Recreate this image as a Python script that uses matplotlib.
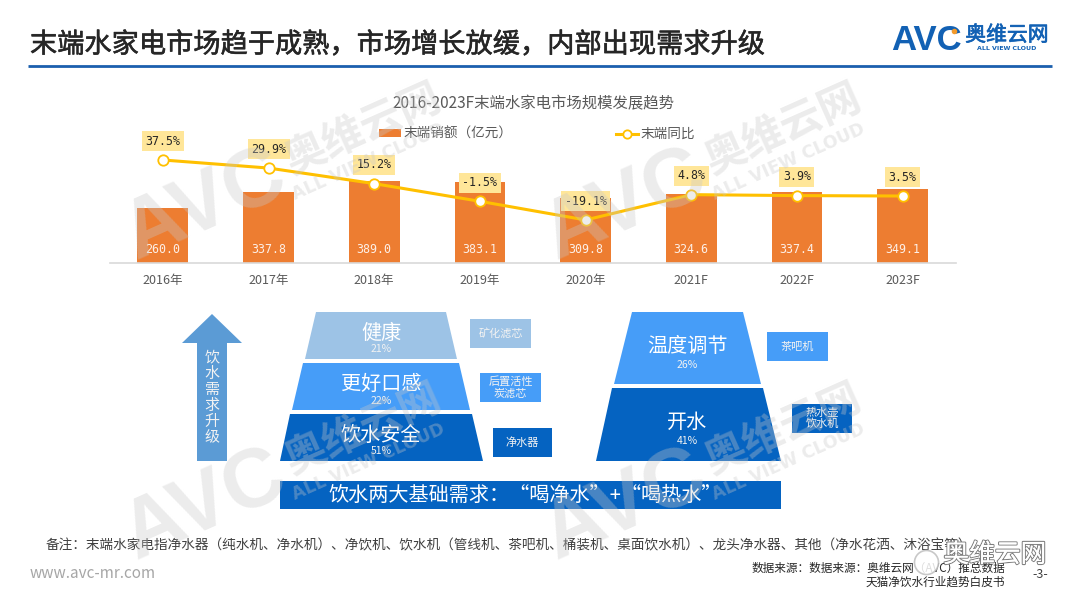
import matplotlib
matplotlib.use("Agg")
import matplotlib.pyplot as plt
import matplotlib.patheffects as pe
from matplotlib.patches import Polygon, Rectangle

plt.rcParams['font.family'] = ['Noto Sans CJK SC', 'DejaVu Sans']

years = ["2016年", "2017年", "2018年", "2019年", "2020年", "2021F", "2022F", "2023F"]
sales = [260.0, 337.8, 389.0, 383.1, 309.8, 324.6, 337.4, 349.1]
growth = [37.5, 29.9, 15.2, -1.5, -19.1, 4.8, 3.9, 3.5]

# left pyramid, top to bottom
left_names = ["健康", "更好口感", "饮水安全"]
left_share = ["21%", "22%", "51%"]
left_notes = ["矿化滤芯", "后置活性\n炭滤芯", "净水器"]
# right pyramid
right_names = ["温度调节", "开水"]
right_share = ["26%", "41%"]
right_notes = ["茶吧机", "热水壶\n饮水机"]

LIGHT = "#9DC3E6"
MID = "#469DF8"
DARK = "#0563C1"
BAR = "#ED7D31"
LINE = "#FFC000"
W, H = 1080, 608


def px_axes(x0, y0, x1, y1, z):
    # axes placed with pixel positions, y counted from the top
    return fig.add_axes([x0 / W, 1 - y1 / H, (x1 - x0) / W, (y1 - y0) / H], zorder=z)


def trapeze(top, bottom, y0, y1, color, name, share, share_dy):
    page.add_patch(Polygon([(top[0], y0), (top[1], y0), (bottom[1], y1), (bottom[0], y1)], color=color, lw=0))
    cx = (top[0] + top[1]) / 2
    cy = (y0 + y1) / 2
    page.text(cx, cy - 2, name, color="white", fontsize=14.5, ha="center", va="center")
    page.text(cx, cy + share_dy, share, color="#F2F2F2", fontsize=7.5, ha="center", va="center")


def note(x0, x1, y0, y1, color, txt):
    page.add_patch(Rectangle((x0, y0), x1 - x0, y1 - y0, color=color, lw=0))
    page.text((x0 + x1) / 2, (y0 + y1) / 2, txt, color="#F2F2F2", fontsize=8, ha="center", va="center", linespacing=1.15)


fig = plt.figure(figsize=(10.8, 6.08), dpi=100, facecolor="white")

page = px_axes(0, 0, W, H, 0)
page.set_xlim(0, W)
page.set_ylim(H, 0)
page.axis("off")

# header
page.text(30, 45, "末端水家电市场趋于成熟，市场增长放缓，内部出现需求升级", fontsize=19.6, color="#262626", ha="left", va="center",
          path_effects=[pe.withStroke(linewidth=0.4, foreground="#262626")])
page.plot([28, 1052], [66, 66], color="#1B5FAE", lw=2, solid_capstyle="butt")
page.text(891, 40, "AVC", fontsize=25, color="#1261B4", family="Liberation Sans", weight="bold", ha="left", va="center")
page.scatter([954], [31], s=16, color="#F39A2B", lw=0, zorder=3)
page.text(1007, 35, "奥维云网", fontsize=15, color="#1261B4", ha="center", va="center",
          path_effects=[pe.withStroke(linewidth=0.5, foreground="#1261B4")])
page.text(1007, 49, "ALL VIEW CLOUD", fontsize=4.5, color="#1261B4", weight="bold", family="DejaVu Sans", ha="center", va="center")

# bar + line chart
ax = px_axes(110, 100, 955.5, 263, 1)
ax.patch.set_alpha(0)
ax.set_xlim(-0.5, 7.5)
ax.set_ylim(0, 772)
bars = ax.bar(range(8), sales, width=0.48, color=BAR, label="末端销额（亿元）")
for s in ["top", "left", "right"]:
    ax.spines[s].set_visible(False)
ax.spines["bottom"].set_color("#D9D9D9")
ax.spines["bottom"].set_linewidth(1.2)
ax.set_yticks([])
ax.set_xticks(range(8))
ax.set_xticklabels(years, fontsize=9, color="#595959")
ax.tick_params(axis="x", length=0, pad=8)
for i, v in enumerate(sales):
    ax.annotate("%.1f" % v, (i, 0), xytext=(0, 9.5), textcoords="offset points", ha="center", va="center",
                color="#FDF0E8", fontsize=8.4, family="DejaVu Sans Mono")

ax2 = ax.twinx()
ax2.set_ylim(-59.7, 94.1)
ax2.set_yticks([])
for s in ax2.spines.values():
    s.set_visible(False)
line, = ax2.plot(range(8), growth, color=LINE, lw=2.2, marker="o", ms=7.5, mfc="white", mec=LINE, mew=1.3, label="末端同比")
for i, v in enumerate(growth):
    ax2.annotate("%.1f%%" % v, (i, v), xytext=(0, 13.5), textcoords="offset points", ha="center", va="center",
                 color="#262626", fontsize=8.4, family="DejaVu Sans Mono",
                 bbox=dict(boxstyle="square,pad=0.3", fc="#FFE699", ec="none"))

ax2.legend(handles=[bars, line], loc="center", bbox_to_anchor=(537 / W, 1 - 134 / H), bbox_transform=fig.transFigure,
           ncol=2, frameon=False, fontsize=9.8, labelcolor="#595959", handlelength=1.65, handleheight=0.45,
           columnspacing=7.6, handletextpad=0.15, markerscale=0.8)
page.text(533, 104, "2016-2023F末端水家电市场规模发展趋势", fontsize=11.1, color="#595959", ha="center", va="center")

# demand arrow
page.add_patch(Polygon([(197, 461), (197, 343), (182, 343), (212, 314), (242, 343), (227, 343), (227, 461)], color="#5B9BD5", lw=0))
page.text(212, 398, "饮\n水\n需\n求\n升\n级", color="#F2F2F2", fontsize=10.8, ha="center", va="center", linespacing=1.2)

# left pyramid
trapeze((316, 446), (305, 457), 312, 359, LIGHT, left_names[0], left_share[0], 14)
trapeze((303, 459), (292, 470), 363, 410, MID, left_names[1], left_share[1], 14)
trapeze((290, 472), (280, 483), 414, 461, DARK, left_names[2], left_share[2], 14)
note(470, 531, 319, 348, LIGHT, left_notes[0])
note(480, 541, 373, 402, MID, left_notes[1])
note(493, 552, 428, 457, DARK, left_notes[2])

# right pyramid
trapeze((632, 743), (614, 761), 312, 384, MID, right_names[0], right_share[0], 17)
trapeze((612, 763), (596, 781), 388, 461, DARK, right_names[1], right_share[1], 16)
note(767, 828, 332, 361, MID, right_notes[0])
note(792, 852, 404, 433, DARK, right_notes[1])

page.add_patch(Rectangle((280, 481), 501, 28, color=DARK, lw=0))
page.text(525, 495, "饮水两大基础需求：“喝净水”+“喝热水”", color="white", fontsize=14.5, ha="center", va="center")

# footer
page.text(46, 545, "备注：末端水家电指净水器（纯水机、净水机）、净饮机、饮水机（管线机、茶吧机、桶装机、桌面饮水机）、龙头净水器、其他（净水花洒、沐浴宝等）",
          fontsize=9.8, color="#404040", ha="left", va="center")
page.text(30, 574, "www.avc-mr.com", fontsize=11, color="#A6A6A6", ha="left", va="center")
page.text(1005, 568, "数据来源：数据来源：奥维云网（AVC）推总数据", fontsize=8.4, color="#262626", ha="right", va="center")
page.text(1005, 582, "天猫净饮水行业趋势白皮书", fontsize=8.4, color="#262626", ha="right", va="center")
page.text(1040, 574, "-3-", fontsize=9, color="#404040", ha="center", va="center")

# watermarks on top of everything
wm = px_axes(0, 0, W, H, 5)
wm.patch.set_alpha(0)
wm.set_xlim(0, W)
wm.set_ylim(H, 0)
wm.axis("off")
for dx, dy in [(0, 0), (420, 0), (0, 300), (420, 300)]:
    wm.text(205 + dx, 205 + dy, "AVC", fontsize=60, color="#C8C8C8", alpha=0.35, family="Liberation Sans", weight="bold",
            rotation=24, rotation_mode="anchor", ha="center", va="center")
    wm.text(363 + dx, 130 + dy, "奥维云网", fontsize=30, color="#C8C8C8", alpha=0.35, weight="bold",
            rotation=24, rotation_mode="anchor", ha="center", va="center")
    wm.text(368 + dx, 162 + dy, "ALL VIEW CLOUD", fontsize=12.5, color="#C8C8C8", alpha=0.35, family="DejaVu Sans", weight="bold",
            rotation=24, rotation_mode="anchor", ha="center", va="center")

# wechat account mark
wm.text(995, 555, "奥维云网", fontsize=18.5, color="white", ha="center", va="center",
        path_effects=[pe.withStroke(linewidth=1.6, foreground="#7F7F7F"), pe.Normal()])
wm.scatter([926], [562], s=300, color="white", edgecolor="#BFBFBF", lw=1.2, alpha=0.85)

fig.savefig("out.png", dpi=100, facecolor="white")
